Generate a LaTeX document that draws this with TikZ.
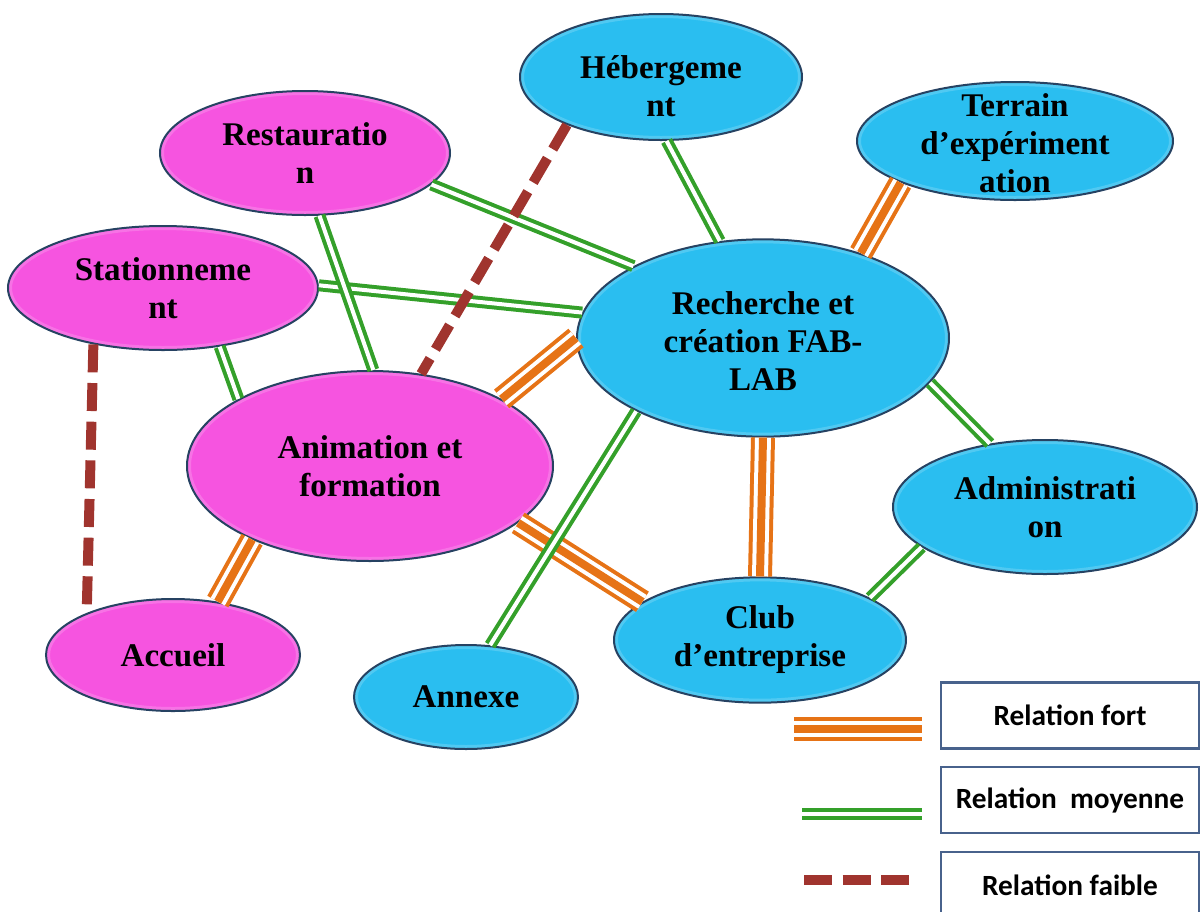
\documentclass[tikz,border=0pt]{standalone}
\usepackage{fontspec}
\setmainfont{Liberation Serif}
\newfontfamily\legfont{Carlito}
\usetikzlibrary{shapes.geometric,calc}

\definecolor{cielbleu}{RGB}{42,190,240}
\definecolor{rosevif}{RGB}{246,84,224}
\definecolor{contour}{RGB}{38,66,98}
\definecolor{orangefort}{RGB}{230,115,22}
\definecolor{vertmoyen}{RGB}{52,160,42}
\definecolor{brunfaible}{RGB}{160,52,46}
\definecolor{cadre}{RGB}{72,98,140}

\tikzset{every picture/.style={line width=0.75pt}}
\tikzset{
  % soft light rim on the inside of each ellipse
  relief/.style={path picture={
    \path let \p1=($(path picture bounding box.north east)-(path picture bounding box.center)$) in
      [draw=white, opacity=0.12, line width=22pt] (path picture bounding box.center) ellipse [x radius=\x1, y radius=\y1]
      [draw=white, opacity=0.15, line width=12pt] (path picture bounding box.center) ellipse [x radius=\x1, y radius=\y1]
      [draw=white, opacity=0.18, line width=6pt] (path picture bounding box.center) ellipse [x radius=\x1, y radius=\y1];
  }},
  pole/.style={ellipse, draw=contour, line width=1.5pt, inner sep=0pt, relief},
  bleu/.style={pole, fill=cielbleu},
  rose/.style={pole, fill=rosevif},
  texte/.style={font=\bfseries\fontsize{24.8}{28.5}\selectfont, align=center, inner sep=0pt},
  fort/.style={draw=orangefort, line width=3pt, double=white, double distance=12pt,
    postaction={draw=orangefort, line width=6pt}},
  moyen/.style={draw=vertmoyen, line width=3pt, double=white, double distance=3pt},
  faible/.style={draw=brunfaible, line width=7.5pt, dash pattern=on 21pt off 8pt},
  legende/.style={draw=cadre, line width=2pt, fill=white, minimum width=193.5pt,
    minimum height=49.5pt, font=\legfont\bfseries\fontsize{22}{26}\selectfont}
}

\begin{document}
\begin{tikzpicture}[x=0.75pt,y=0.75pt,yscale=-1,xscale=1]
\useasboundingbox (0,0) rectangle (1200,911);

% Poles (ellipses)
\node[bleu, minimum width=211.5pt, minimum height=94.5pt,
  label={[texte, name=heb-t, yshift=-7pt]center:{Hébergeme\\nt}}] (heb) at (661,77) {};
\node[rose, minimum width=217.5pt, minimum height=93pt,
  label={[texte, name=rest-t]center:{Restauratio\\n}}] (rest) at (305,153) {};
\node[bleu, minimum width=237pt, minimum height=88.5pt,
  label={[texte, name=terr-t, yshift=-2pt]center:{Terrain\\d’expériment\\ation}}] (terr) at (1015,141) {};
\node[rose, minimum width=232.5pt, minimum height=93pt,
  label={[texte, name=stat-t]center:{Stationneme\\nt}}] (stat) at (163,288) {};
\node[bleu, minimum width=279pt, minimum height=148pt,
  label={[texte, name=rech-t, yshift=-2pt]center:{Recherche et\\création FAB-\\LAB}}] (rech) at (763,338) {};
\node[rose, minimum width=274.5pt, minimum height=142.5pt,
  label={[texte, name=anim-t]center:{Animation et\\formation}}] (anim) at (370,466) {};
\node[bleu, minimum width=228pt, minimum height=100.5pt,
  label={[texte, name=admin-t]center:{Administrati\\on}}] (admin) at (1045,507) {};
\node[rose, minimum width=190.5pt, minimum height=84pt,
  label={[texte, name=acc-t]center:{Accueil}}] (acc) at (173,655) {};
\node[bleu, minimum width=168pt, minimum height=78pt,
  label={[texte, name=annexe-t]center:{Annexe}}] (annexe) at (466,697) {};
\node[bleu, minimum width=219pt, minimum height=94pt,
  label={[texte, name=club-t]center:{Club\\d’entreprise}}] (club) at (760,640) {};

% Relations fortes
\draw[fort] (terr.-160.5) -- (rech.41.6);
\draw[fort] (anim.27.5) -- (rech.180.6);
\draw[fort] (anim.-148.6) -- (acc.50.2);
\draw[fort] (anim.-21.1) -- (club.162.8);
\draw[fort] (rech.-90) -- (club.90);

% Relations moyennes
\draw[moyen] (heb.-85) -- (rech.114.1);
\draw[moyen] (rest.-14.4) -- (rech.151.3);
\draw[moyen] (stat.1.2) -- (rech.172.6);
\draw[moyen] (rest.-77.6) -- (anim.88.8);
\draw[moyen] (stat.-46.6) -- (anim.153.1);
\draw[moyen] (rech.-150.6) -- (annexe.65.2);
\draw[moyen] (rech.-15.2) -- (admin.131);
\draw[moyen] (club.21.4) -- (admin.-162.6);

% Relations faibles
\draw[faible] (heb.-153.2) -- (anim.61.4);
\draw[faible] (stat.-141.2) -- (acc.154.7);

% Legende
\node[legende] (lg-fort) at (1070,715.5) {Relation fort};
\node[legende] (lg-moy) at (1070,800) {Relation\ \ moyenne};
\node[legende] (lg-faib) at (1070,885) {Relation faible};

\coordinate (f1) at (794,729);
\coordinate (f2) at (922,729);
\coordinate (m1) at (802,813.5);
\coordinate (m2) at (922,813.5);
\coordinate (d1) at (804,880);
\coordinate (d2) at (913,880);
\draw[fort] (f1) -- (f2);
\draw[moyen] (m1) -- (m2);
\draw[faible] (d1) -- (d2);

\end{tikzpicture}
\end{document}
